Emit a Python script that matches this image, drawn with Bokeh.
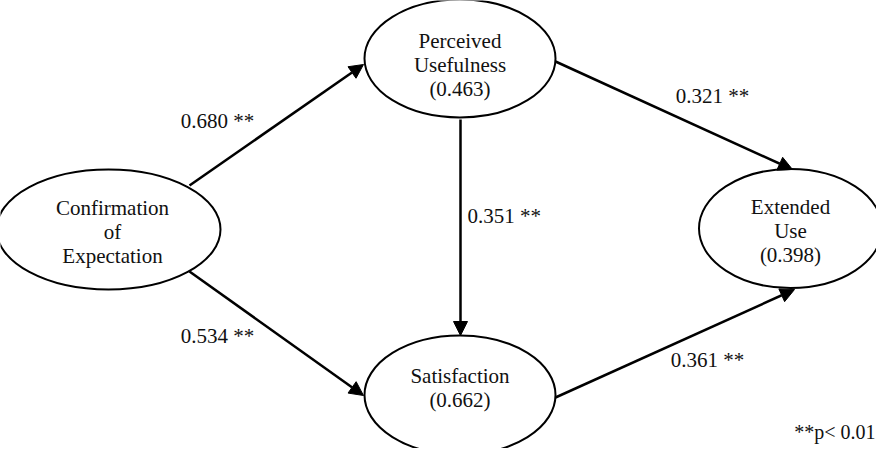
from bokeh.plotting import figure
from bokeh.models import Range1d, Arrow, NormalHead
from bokeh.core.properties import value
from bokeh.embed import file_html
from bokeh.resources import INLINE

# ---- data ----
node_labels = ["Confirmation\nof\nExpectation", "Perceived\nUsefulness\n(0.463)",
               "Satisfaction\n(0.662)", "Extended\nUse\n(0.398)"]
path_from = [0, 0, 1, 1, 2]
path_to = [1, 2, 2, 3, 3]
path_coef = ["0.680 **", "0.534 **", "0.351 **", "0.321 **", "0.361 **"]
note = "**p< 0.01"

# ---- layout (pixel space of the picture) ----
node_x = [116, 467.5, 467.5, 798]
node_y = [237, 66, 402.5, 236]
node_w = [224, 191, 191, 183]
node_h = [120, 118, 119, 119]
text_x = [120, 467.5, 467.5, 798]
text_y = [239, 72, 395, 238]
arrow_start = [(197, 193), (197, 279), (468, 127), (563, 69), (563, 405)]
arrow_end = [(371, 72), (371, 403), (468, 343), (800, 177), (802, 297)]
label_pos = [(225, 128, "center"), (225, 343, "center"), (475, 223, "left"),
             (720, 103, "center"), (715, 367, "center")]

FONT = value("Liberation Serif")

p = figure(width=876, height=448, output_backend="svg", toolbar_location=None,
           x_range=Range1d(8, 884), y_range=Range1d(456, 8), min_border=0)
p.axis.visible = False
p.grid.visible = False
p.outline_line_color = None
p.background_fill_color = "white"

for i in range(len(path_coef)):
    (x0, y0), (x1, y1) = arrow_start[i], arrow_end[i]
    p.add_layout(Arrow(x_start=x0, y_start=y0, x_end=x1, y_end=y1,
                       line_color="black", line_width=2.5,
                       end=NormalHead(size=14, fill_color="black", line_color="black", line_width=1)))

p.ellipse(x=node_x, y=node_y, width=node_w, height=node_h,
          fill_color="white", line_color="black", line_width=2)

p.text(x=text_x, y=text_y, text=node_labels, text_font=FONT, text_font_size="21px",
       text_align="center", text_baseline="middle", text_line_height=1.0, text_color="#111111")

for i, (lx, ly, al) in enumerate(label_pos):
    p.text(x=[lx], y=[ly], text=[path_coef[i]], text_font=FONT, text_font_size="21px",
           text_align=al, text_baseline="middle", text_color="#111111")

p.text(x=[883], y=[439], text=[note], text_font=FONT, text_font_size="20px",
       text_align="right", text_baseline="middle", text_color="#111111")

open("out.html", "w").write(file_html(p, INLINE))
